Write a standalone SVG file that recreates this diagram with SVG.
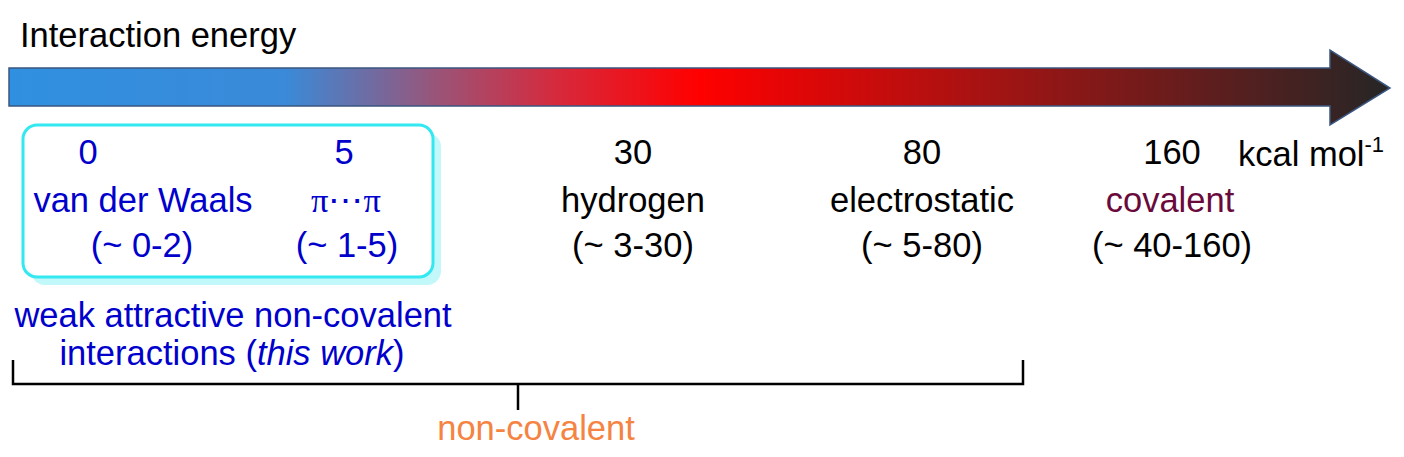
<svg xmlns="http://www.w3.org/2000/svg" width="1404" height="457" viewBox="0 0 1404 457">
<defs>
<linearGradient id="grad" x1="9" y1="0" x2="1390" y2="0" gradientUnits="userSpaceOnUse">
<stop offset="0" stop-color="#3090e0"/>
<stop offset="0.2" stop-color="#3a8ad8"/>
<stop offset="0.31" stop-color="#9a5478"/>
<stop offset="0.4" stop-color="#d8283a"/>
<stop offset="0.5" stop-color="#ff0000"/>
<stop offset="0.72" stop-color="#a01414"/>
<stop offset="1" stop-color="#262626"/>
</linearGradient>
<style>
text{font-family:"Liberation Sans",Arial,sans-serif;font-size:34.5px;text-anchor:middle}
.k{fill:#000}
.b{fill:#0000cc}
.c{fill:#6a0a3c}
.o{fill:#f58342}
.ln{stroke:#000;stroke-width:2.5;fill:none}
</style>
</defs>
<g id="title"><text class="k" x="20" y="47" style="text-anchor:start">Interaction energy</text></g>
<g id="arrow"><path d="M9,68 H1330 V50 L1390,88 L1330,125 V106 H9 Z" fill="url(#grad)" stroke="#3b5680" stroke-width="1.5"/></g>
<g id="weak-box">
<rect x="31" y="133" width="410" height="152" rx="14" fill="#c2f8fa"/>
<rect x="23" y="125" width="410" height="152" rx="14" fill="#fff" stroke="#33e8f0" stroke-width="3"/>
</g>
<g id="vdw">
<text class="b" x="88" y="164">0</text>
<text class="b" x="143" y="212">van der Waals</text>
<text class="b" x="142" y="257">(~ 0-2)</text>
</g>
<g id="pipi">
<text class="b" x="344" y="164">5</text>
<text class="b" x="346" y="212" style="font-family:'Liberation Serif','DejaVu Serif',serif">π⋯π</text>
<text class="b" x="347" y="257">(~ 1-5)</text>
</g>
<g id="hydrogen">
<text class="k" x="633" y="164">30</text>
<text class="k" x="633" y="212">hydrogen</text>
<text class="k" x="633" y="257">(~ 3-30)</text>
</g>
<g id="electrostatic">
<text class="k" x="922" y="164">80</text>
<text class="k" x="922" y="212">electrostatic</text>
<text class="k" x="922" y="257">(~ 5-80)</text>
</g>
<g id="covalent">
<text class="k" x="1172" y="164">160</text>
<text class="c" x="1170" y="212">covalent</text>
<text class="k" x="1172" y="257">(~ 40-160)</text>
</g>
<g id="unit"><text class="k" x="1238" y="166" style="text-anchor:start">kcal mol<tspan font-size="22" dy="-14">-1</tspan></text></g>
<g id="weak-label">
<text class="b" x="233" y="327">weak attractive non-covalent</text>
<text class="b" x="232" y="365">interactions (<tspan font-style="italic">this work</tspan>)</text>
</g>
<g id="connectors">
<path class="ln" d="M13,360 V384 H1023 V360"/>
<path class="ln" d="M518,384 V410"/>
</g>
<g id="noncov-label"><text class="o" x="536" y="440">non-covalent</text></g>
</svg>
